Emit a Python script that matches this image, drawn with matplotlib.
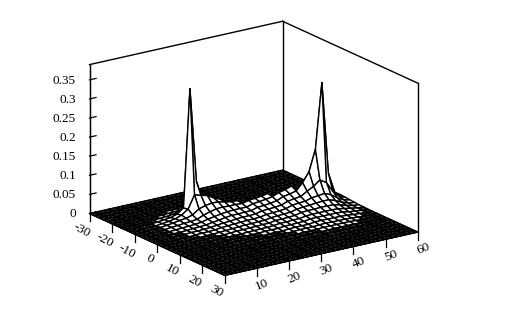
import numpy as np
import matplotlib
matplotlib.use('Agg')
import matplotlib.pyplot as plt

plt.rcParams['font.family'] = ['Liberation Serif', 'DejaVu Serif']

x_ticks = [-30, -20, -10, 0, 10, 20, 30]
y_ticks = [10, 20, 30, 40, 50, 60]
z_ticks = [0, 0.05, 0.1, 0.15, 0.2, 0.25, 0.3, 0.35]
z_labels = ['0', '0.05', '0.1', '0.15', '0.2', '0.25', '0.3', '0.35']
z_top = 0.39

x_nodes = np.arange(-30, 31, 2)
y_nodes = np.arange(0, 61, 2)

# surface heights in thousandths, read by eye: y -> (first x column, values)
surface_rows = {
    6: (8, [1, 1, 1, 1, 1, 1, 1]),
    8: (8, [1, 1, 2, 2, 2, 2, 1, 1]),
    10: (7, [1, 2, 3, 4, 4, 3, 2, 2, 1, 1]),
    12: (6, [1, 2, 4, 5, 6, 5, 4, 3, 3, 2, 1, 1]),
    14: (6, [1, 3, 6, 8, 9, 7, 5, 4, 3, 3, 2, 1, 1]),
    16: (5, [1, 2, 5, 11, 14, 11, 8, 6, 5, 4, 3, 2, 2, 1, 1]),
    18: (5, [1, 3, 8, 24, 26, 16, 10, 8, 6, 5, 4, 3, 2, 2, 1, 1]),
    20: (5, [1, 4, 14, 332, 60, 28, 17, 12, 9, 7, 6, 4, 3, 2, 2, 1, 1]),
    22: (5, [1, 3, 10, 85, 55, 33, 22, 15, 11, 9, 7, 5, 4, 2, 2, 1, 1]),
    24: (6, [2, 6, 30, 50, 36, 26, 18, 14, 10, 8, 6, 4, 3, 2, 1, 1]),
    26: (6, [1, 3, 14, 40, 35, 27, 20, 16, 12, 9, 7, 5, 3, 2, 1, 1]),
    28: (7, [2, 6, 33, 31, 26, 21, 16, 13, 10, 7, 5, 4, 3, 2, 1, 1]),
    30: (7, [1, 3, 12, 28, 26, 21, 17, 13, 10, 8, 6, 4, 3, 2, 1, 1]),
    32: (8, [2, 6, 27, 25, 21, 17, 14, 11, 8, 6, 5, 3, 2, 1, 1]),
    34: (8, [1, 3, 12, 29, 26, 22, 18, 14, 11, 9, 7, 5, 3, 2, 1, 1]),
    36: (9, [2, 6, 31, 28, 23, 19, 15, 12, 9, 7, 5, 4, 3, 2, 1]),
    38: (9, [1, 3, 33, 30, 25, 20, 16, 13, 10, 8, 6, 4, 3, 2, 1]),
    40: (9, [1, 3, 36, 33, 28, 22, 18, 14, 11, 8, 6, 4, 3, 2, 1]),
    42: (10, [2, 9, 40, 35, 28, 23, 18, 15, 11, 9, 6, 4, 3, 2, 1]),
    44: (10, [1, 4, 44, 38, 31, 25, 20, 16, 12, 9, 7, 5, 3, 2, 1]),
    46: (10, [1, 3, 50, 42, 33, 26, 21, 16, 12, 9, 6, 4, 3, 2, 1]),
    48: (10, [1, 3, 20, 60, 43, 31, 23, 17, 12, 9, 6, 4, 3, 2, 1]),
    50: (11, [4, 22, 85, 52, 33, 24, 17, 12, 9, 6, 4, 3, 2, 1]),
    52: (11, [4, 18, 140, 65, 35, 24, 16, 11, 8, 5, 3, 2, 1]),
    54: (11, [3, 12, 311, 55, 28, 18, 12, 8, 5, 3, 2, 1]),
    56: (11, [2, 7, 70, 28, 16, 10, 7, 5, 3, 2, 1]),
    58: (11, [1, 3, 16, 11, 7, 4, 3, 2, 1, 1]),
    60: (12, [1, 5, 4, 3, 2, 1, 1]),
}

Z = np.zeros((len(y_nodes), len(x_nodes)))
for yv, (first, vals) in surface_rows.items():
    Z[yv // 2, first:first + len(vals)] = np.array(vals) / 1000.0
X, Y = np.meshgrid(x_nodes, y_nodes)

fig = plt.figure(figsize=(5.16, 3.18), dpi=100)
ax = fig.add_subplot(projection='3d', proj_type='ortho', computed_zorder=False)
ax.set_position([-11.3 / 516, -95.3 / 318, 1, 516 / 318])
ax.view_init(elev=18.7, azim=-35)
ax.set_box_aspect((1, 1, 0.667), zoom=1.125 * 318 / 516)
ax.set_xlim(-30, 30, view_margin=0)
ax.set_ylim(0, 60, view_margin=0)
ax.set_zlim(0, z_top, view_margin=0)
ax.patch.set_alpha(0)
ax.grid(False)
for a in (ax.xaxis, ax.yaxis, ax.zaxis):
    a.pane.set_visible(False)
    a._axinfo['tick']['inward_factor'] = 0.0
    a._axinfo['tick']['linewidth'] = {True: 0.9, False: 0.5}
ax.xaxis._axinfo['tick']['outward_factor'] = 0.65
ax.yaxis._axinfo['tick']['outward_factor'] = 0.65
ax.zaxis._axinfo['tick']['outward_factor'] = 0.42
# x and y ticks point straight down, along the z direction
ax.xaxis._get_tickdir = lambda pos: 2
ax.yaxis._get_tickdir = lambda pos: 2

# walls
ax.plot([-30, -30], [0, 0], [0, z_top], color='k', lw=1.0, zorder=0)
ax.plot([-30, -30], [0, 60], [z_top, z_top], color='k', lw=1.0, zorder=0)
ax.plot([-30, 30], [60, 60], [z_top, z_top], color='k', lw=1.0, zorder=0)
ax.plot([-30, -30], [60, 60], [0, z_top], color='k', lw=1.0, zorder=0)
ax.plot([30, 30], [60, 60], [0, z_top], color='k', lw=1.0, zorder=0)

# dense floor mesh
fx, fy = np.meshgrid(np.arange(-30, 31, 1), np.arange(0, 61, 1))
ax.plot_wireframe(fx, fy, np.zeros_like(fx, dtype=float), rstride=1, cstride=1,
                  color='k', linewidth=0.75, zorder=1)

# raised surface with hidden lines; very low cells stay see-through onto the dense floor
fc = np.zeros(Z.shape + (4,))
high = np.maximum.reduce([Z[:-1, :-1], Z[1:, :-1], Z[:-1, 1:], Z[1:, 1:]])
fc[:-1, :-1][high >= 0.003] = (1, 1, 1, 1)
surf = ax.plot_surface(X, Y, Z, rstride=1, cstride=1, facecolors=fc, shade=False,
                       linewidth=1.0, antialiased=True, zorder=2)
surf.set_edgecolor('k')
surf.set_linewidth(1.0)

ax.set_xticks(x_ticks)
ax.set_yticks(y_ticks)
ax.set_zticks(z_ticks)
ax.set_zticklabels(z_labels, fontsize=9.5, va='center_baseline', ha='right')
ax.set_xticklabels([str(v) for v in x_ticks], fontsize=9.5, rotation=-28)
ax.set_yticklabels([str(v) for v in y_ticks], fontsize=9.5, rotation=22)
ax.tick_params(axis='x', pad=-0.3)
ax.tick_params(axis='y', pad=-0.3)
ax.tick_params(axis='z', pad=0)
ax.zaxis.set_ticks_position('lower')

fig.savefig('out.png', dpi=100)
